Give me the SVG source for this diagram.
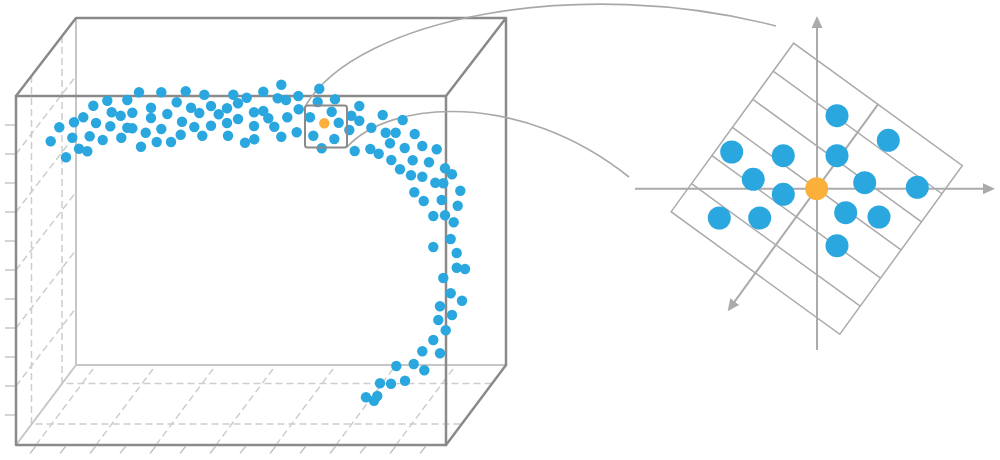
<svg xmlns="http://www.w3.org/2000/svg" width="1000" height="460" viewBox="0 0 1000 460">
<defs>
<style>
.edge{stroke:#8a8a8a;stroke-width:2.5;fill:none;stroke-linejoin:round;stroke-linecap:round}
.back{stroke:#c6c6c6;stroke-width:2;fill:none}
.dash{stroke:#cdcdcd;stroke-width:1.5;stroke-dasharray:7 4;fill:none}
.tick{stroke:#c6c6c6;stroke-width:1.5;fill:none}
.p circle{fill:#2aa7df}
.p circle.q{fill:#fbb03b}
.link{stroke:#a9a9a9;stroke-width:1.6;fill:none}
.grid{stroke:#ababab;stroke-width:1.5;fill:none}
.axis{stroke:#ababab;stroke-width:2;fill:none}
</style>
<marker id="arr" markerUnits="userSpaceOnUse" markerWidth="12" markerHeight="11" viewBox="0 0 12 11" refX="0.5" refY="5.5" orient="auto"><path d="M0,0 L12,5.5 L0,11 z" fill="#ababab"/></marker>
</defs>
<rect width="1000" height="460" fill="#fff"/>

<g id="box">
  <path class="tick" d="M5,125H15M5,154H15M5,183H15M5,212H15M5,241H15M5,270H15M5,299H15M5,328H15M5,357H15M5,386H15M5,415H15"/>
  <path class="tick" d="M30,453.5l5.5,-7M60,453.5l5.5,-7M90,453.5l5.5,-7M120,453.5l5.5,-7M150,453.5l5.5,-7M180,453.5l5.5,-7M210,453.5l5.5,-7M240,453.5l5.5,-7M270,453.5l5.5,-7M300,453.5l5.5,-7M330,453.5l5.5,-7M360,453.5l5.5,-7M390,453.5l5.5,-7M420,453.5l5.5,-7"/>
  <path class="dash" d="M16,154L76,76M16,212L76,134M16,270L76,192M16,328L76,250M16,386L76,308"/>
  <path class="dash" d="M31.5,76V424H462M62,36V383.5H492.5"/>
  <path class="dash" d="M36,445L96,365M96,445L156,365M156,445L216,365M216,445L276,365M276,445L336,365M336,445L396,365M396,445L456,365"/>
  <path class="back" d="M76,18V365H506M16,445L76,365"/>
  <path class="edge" d="M16,96L76,18H506V365L446,445M446,96L506,18"/>
  <rect class="edge" x="16" y="96" width="430" height="349"/>
</g>

<g id="connectors">
  <path class="link" d="M306,105C358,18 580,-25 776,26"/>
  <path class="link" d="M347,147C390,100 520,90 629,177"/>
</g>

<g id="points" class="p">
<circle cx="139" cy="92.3" r="5.2"/><circle cx="161.3" cy="92.3" r="5.2"/><circle cx="185.7" cy="91.3" r="5.2"/><circle cx="204.3" cy="94.7" r="5.2"/><circle cx="233.3" cy="94.7" r="5.2"/><circle cx="246.7" cy="97.7" r="5.2"/><circle cx="107.3" cy="100.7" r="5.2"/><circle cx="127.3" cy="100" r="5.2"/><circle cx="93.3" cy="105.7" r="5.2"/><circle cx="176.7" cy="102.3" r="5.2"/><circle cx="151" cy="107.7" r="5.2"/><circle cx="191" cy="107.7" r="5.2"/><circle cx="211" cy="106" r="5.2"/><circle cx="199.3" cy="113" r="5.2"/><circle cx="227" cy="108.3" r="5.2"/><circle cx="238" cy="103.3" r="5.2"/><circle cx="254" cy="112.3" r="5.2"/><circle cx="111.7" cy="112.3" r="5.2"/><circle cx="120.7" cy="115.7" r="5.2"/><circle cx="132.3" cy="112.7" r="5.2"/><circle cx="83.3" cy="117.3" r="5.2"/><circle cx="74" cy="122.3" r="5.2"/><circle cx="96" cy="123" r="5.2"/><circle cx="151" cy="118" r="5.2"/><circle cx="167.3" cy="114" r="5.2"/><circle cx="182" cy="121.7" r="5.2"/><circle cx="218.7" cy="114.3" r="5.2"/><circle cx="238" cy="119" r="5.2"/><circle cx="227" cy="123" r="5.2"/><circle cx="254" cy="126" r="5.2"/><circle cx="59.3" cy="127.3" r="5.2"/><circle cx="110.3" cy="126.3" r="5.2"/><circle cx="127.3" cy="127.7" r="5.2"/><circle cx="132.3" cy="128.3" r="5.2"/><circle cx="194.3" cy="127" r="5.2"/><circle cx="211" cy="125.7" r="5.2"/><circle cx="161.3" cy="129" r="5.2"/><circle cx="145.7" cy="132.7" r="5.2"/><circle cx="89.7" cy="136.3" r="5.2"/><circle cx="72.3" cy="137.7" r="5.2"/><circle cx="50.7" cy="141.3" r="5.2"/><circle cx="102.7" cy="140" r="5.2"/><circle cx="121.3" cy="137.7" r="5.2"/><circle cx="180.7" cy="134.7" r="5.2"/><circle cx="202.3" cy="135.7" r="5.2"/><circle cx="228" cy="135.7" r="5.2"/><circle cx="156.7" cy="142" r="5.2"/><circle cx="171" cy="142" r="5.2"/><circle cx="141" cy="146.7" r="5.2"/><circle cx="79" cy="148.7" r="5.2"/><circle cx="87.3" cy="151.3" r="5.2"/><circle cx="66" cy="157.3" r="5.2"/><circle cx="245" cy="142.7" r="5.2"/><circle cx="254.3" cy="139.3" r="5.2"/>
<circle cx="281.3" cy="84.7" r="5.2"/><circle cx="263.3" cy="91.7" r="5.2"/><circle cx="277.7" cy="98.3" r="5.2"/><circle cx="286" cy="100" r="5.2"/><circle cx="298.3" cy="96" r="5.2"/><circle cx="319.3" cy="88.7" r="5.2"/><circle cx="317.7" cy="102" r="5.2"/><circle cx="335" cy="99.3" r="5.2"/><circle cx="359.3" cy="106" r="5.2"/><circle cx="263.3" cy="111" r="5.2"/><circle cx="268.3" cy="118.3" r="5.2"/><circle cx="287.3" cy="117.3" r="5.2"/><circle cx="298.7" cy="109.3" r="5.2"/><circle cx="310" cy="117.3" r="5.2"/><circle cx="331.7" cy="111.7" r="5.2"/><circle cx="338.7" cy="122.7" r="5.2"/><circle cx="351.3" cy="115.7" r="5.2"/><circle cx="359.3" cy="120.7" r="5.2"/><circle cx="382.7" cy="115" r="5.2"/><circle cx="402.7" cy="120" r="5.2"/><circle cx="274.3" cy="126.7" r="5.2"/><circle cx="281.3" cy="136.7" r="5.2"/><circle cx="296.7" cy="132.3" r="5.2"/><circle cx="313.3" cy="135.7" r="5.2"/><circle cx="334.3" cy="139" r="5.2"/><circle cx="349.3" cy="130" r="5.2"/><circle cx="371.3" cy="127.7" r="5.2"/><circle cx="385.7" cy="132.7" r="5.2"/><circle cx="395.7" cy="132.7" r="5.2"/><circle cx="414.7" cy="134" r="5.2"/><circle cx="321.7" cy="148.3" r="5.2"/><circle cx="354.7" cy="151" r="5.2"/><circle cx="370.3" cy="149" r="5.2"/><circle cx="378.7" cy="153.7" r="5.2"/><circle cx="390" cy="143.3" r="5.2"/><circle cx="404.7" cy="148" r="5.2"/><circle cx="422.3" cy="146" r="5.2"/><circle cx="436.7" cy="149.3" r="5.2"/><circle cx="412.7" cy="160.3" r="5.2"/><circle cx="429" cy="162.3" r="5.2"/><circle cx="391.3" cy="160" r="5.2"/><circle cx="400" cy="169.3" r="5.2"/><circle cx="411" cy="175.3" r="5.2"/><circle cx="422.3" cy="176.7" r="5.2"/><circle cx="435.3" cy="182.7" r="5.2"/><circle cx="443.3" cy="183.3" r="5.2"/><circle cx="445" cy="168.3" r="5.2"/><circle cx="452" cy="174.3" r="5.2"/><circle cx="460.3" cy="190.7" r="5.2"/><circle cx="414.3" cy="192.3" r="5.2"/><circle cx="423.7" cy="201" r="5.2"/><circle cx="441.7" cy="200" r="5.2"/><circle cx="457.7" cy="205.7" r="5.2"/><circle cx="433.3" cy="216" r="5.2"/><circle cx="445" cy="215.3" r="5.2"/><circle cx="453.7" cy="222.3" r="5.2"/>
<circle cx="450.7" cy="239" r="5.2"/><circle cx="433.3" cy="247" r="5.2"/><circle cx="456.7" cy="253" r="5.2"/><circle cx="456.7" cy="267.7" r="5.2"/><circle cx="465" cy="269" r="5.2"/><circle cx="443.3" cy="278" r="5.2"/><circle cx="450.7" cy="293.3" r="5.2"/><circle cx="462" cy="300.7" r="5.2"/><circle cx="440" cy="306.3" r="5.2"/><circle cx="452" cy="315" r="5.2"/><circle cx="438.3" cy="320" r="5.2"/><circle cx="445.7" cy="330.3" r="5.2"/><circle cx="433.3" cy="340" r="5.2"/><circle cx="422.3" cy="351.3" r="5.2"/><circle cx="440" cy="353.3" r="5.2"/><circle cx="396.3" cy="366" r="5.2"/><circle cx="413.7" cy="364" r="5.2"/><circle cx="424.3" cy="370.3" r="5.2"/><circle cx="380" cy="383.3" r="5.2"/><circle cx="391" cy="383.7" r="5.2"/><circle cx="405" cy="380.7" r="5.2"/><circle cx="366" cy="397.3" r="5.2"/><circle cx="377.3" cy="396" r="5.2"/><circle cx="374" cy="400.7" r="5.2"/>
<circle class="q" cx="324.3" cy="123.3" r="5.2"/>
</g>

<g id="zoom-window">
  <rect x="305" y="105.5" width="42" height="42" rx="2.5" fill="none" stroke="#8a8a8a" stroke-width="2"/>
</g>

<g id="neighborhood">
  <g transform="translate(816.7,188.7) rotate(36)">
    <rect class="grid" x="-104.25" y="-104.25" width="208.5" height="208.5"/>
    <path class="grid" d="M-104.25,-69.5H104.25M-104.25,-34.75H104.25M-104.25,0H104.25M-104.25,34.75H104.25M-104.25,69.5H104.25"/>
    <path class="axis" d="M0,-104.25V140" marker-end="url(#arr)"/>
  </g>
  <path class="axis" d="M817,350V27.5" marker-end="url(#arr)"/>
  <path class="axis" d="M635,188.7H983.5" marker-end="url(#arr)"/>
  <g class="p">
    <circle cx="837" cy="115.7" r="11.5"/><circle cx="888.3" cy="140.3" r="11.5"/><circle cx="731.7" cy="152" r="11.5"/><circle cx="783.3" cy="155.7" r="11.5"/><circle cx="837" cy="155.7" r="11.5"/><circle cx="753.3" cy="179.3" r="11.5"/><circle cx="864.7" cy="182.7" r="11.5"/><circle cx="917.3" cy="187.3" r="11.5"/><circle cx="783.3" cy="194.3" r="11.5"/><circle cx="719.3" cy="218" r="11.5"/><circle cx="759.7" cy="218" r="11.5"/><circle cx="845.7" cy="212.7" r="11.5"/><circle cx="879" cy="217" r="11.5"/><circle cx="837" cy="245.7" r="11.5"/>
    <circle class="q" cx="816.7" cy="188.7" r="11.5"/>
  </g>
</g>
</svg>
